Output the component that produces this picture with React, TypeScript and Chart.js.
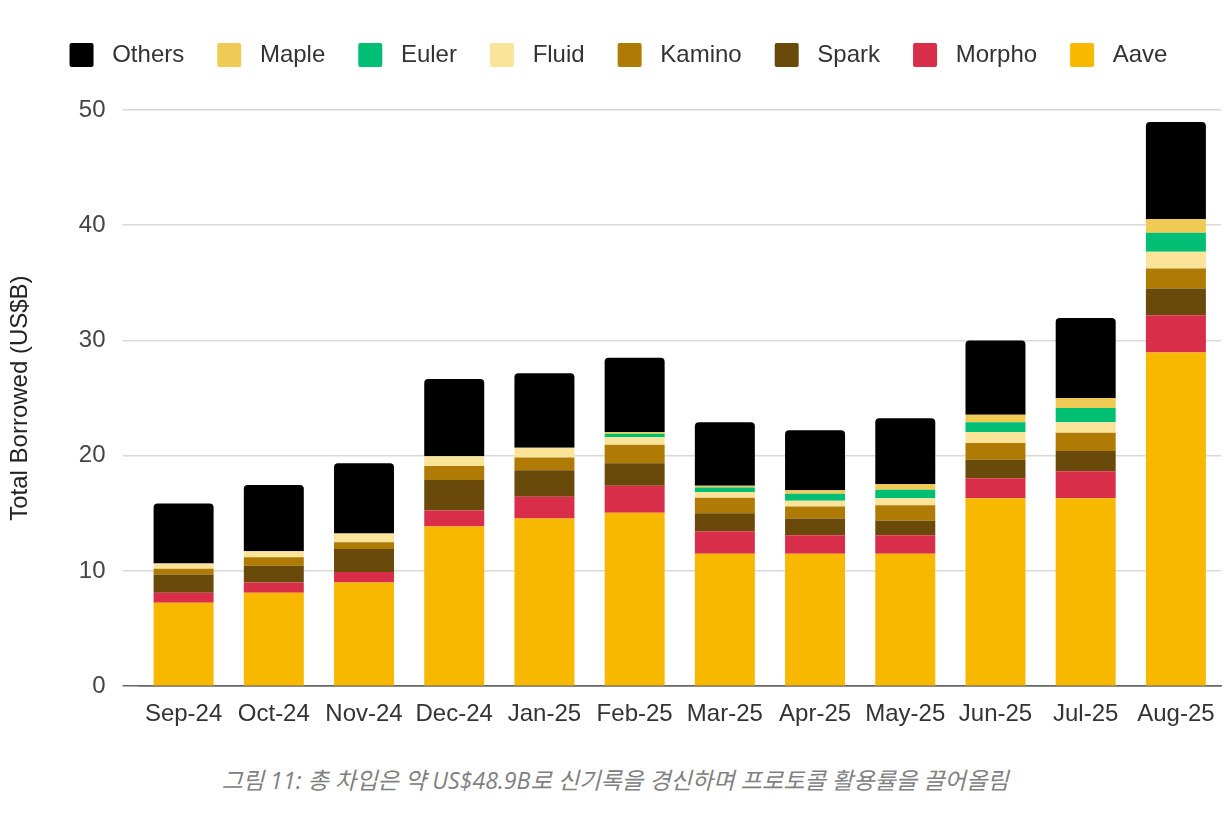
import React, { useEffect, useRef } from "react";
import { Chart, registerables } from "chart.js";

Chart.register(...registerables);

const categories = ["Sep-24", "Oct-24", "Nov-24", "Dec-24", "Jan-25", "Feb-25", "Mar-25", "Apr-25", "May-25", "Jun-25", "Jul-25", "Aug-25"];
const aave = [7.25, 8.1, 9.0, 13.85, 14.55, 15.05, 11.5, 11.5, 11.5, 16.3, 16.3, 28.95];
const morpho = [0.85, 0.9, 0.9, 1.4, 1.9, 2.35, 1.95, 1.6, 1.6, 1.75, 2.35, 3.25];
const spark = [1.6, 1.45, 2.0, 2.65, 2.3, 1.95, 1.55, 1.45, 1.25, 1.6, 1.75, 2.3];
const kamino = [0.5, 0.75, 0.6, 1.2, 1.1, 1.6, 1.35, 1.05, 1.35, 1.45, 1.6, 1.75];
const fluid = [0.45, 0.5, 0.75, 0.85, 0.85, 0.65, 0.5, 0.5, 0.6, 0.95, 0.9, 1.45];
const euler = [0, 0, 0, 0, 0, 0.3, 0.4, 0.6, 0.75, 0.85, 1.25, 1.65];
const maple = [0, 0, 0, 0, 0, 0.15, 0.15, 0.3, 0.5, 0.65, 0.85, 1.2];
const others = [5.2, 5.75, 6.1, 6.7, 6.45, 6.45, 5.5, 5.2, 5.7, 6.45, 6.95, 8.4];
const yTicks = [0, 10, 20, 30, 40, 50];
const yTitle = "Total Borrowed (US$B)";
const caption = "그림 11: 총 차입은 약 US$48.9B로 신기록을 경신하며 프로토콜 활용률을 끌어올림";

const FONT = '"Liberation Sans", Arial, sans-serif';

const legendSpacer = {
  id: "legendSpacer",
  beforeInit(chart: any) {
    const legend = chart.legend;
    if (!legend) return;
    const origFit = legend.fit;
    legend.fit = function () {
      origFit.call(this);
      this.height += 33;
    };
  },
  afterLayout(chart: any) {
    const legend = chart.legend;
    if (!legend) return;
    legend.left += 8;
    legend.right += 8;
  },
};

export default function App() {
  const ref = useRef<HTMLCanvasElement | null>(null);

  useEffect(() => {
    if (!ref.current) return;
    const series = [
      { label: "Aave", data: aave, color: "#F8B800" },
      { label: "Morpho", data: morpho, color: "#D92E4A" },
      { label: "Spark", data: spark, color: "#6A4A0B" },
      { label: "Kamino", data: kamino, color: "#AF7B05" },
      { label: "Fluid", data: fluid, color: "#F9E49A" },
      { label: "Euler", data: euler, color: "#00BE74" },
      { label: "Maple", data: maple, color: "#EFCA55" },
      { label: "Others", data: others, color: "#000000" },
    ];
    const chart = new Chart(ref.current, {
      type: "bar",
      data: {
        labels: categories,
        datasets: series.map((s) => ({
          label: s.label,
          data: s.data,
          backgroundColor: s.color,
          borderWidth: 0,
          categoryPercentage: 1,
          barPercentage: 0.665,
          borderRadius: s.label === "Others" ? { topLeft: 4, topRight: 4, bottomLeft: 0, bottomRight: 0 } : 0,
          borderSkipped: "start",
        })),
      },
      options: {
        responsive: false,
        animation: false,
        layout: { padding: { top: 10, left: 0, right: 9, bottom: 5 } },
        plugins: {
          tooltip: { enabled: false },
          legend: {
            position: "top",
            reverse: true,
            labels: {
              boxWidth: 24,
              boxHeight: 24,
              padding: 33,
              color: "#333333",
              font: { family: FONT, size: 24 },
              useBorderRadius: true,
              borderRadius: 2,
              generateLabels(c: any) {
                const items = Chart.defaults.plugins.legend.labels.generateLabels(c);
                return items.map((it: any) => ({ ...it, text: " " + it.text, lineWidth: 0 }));
              },
            },
          },
        },
        scales: {
          x: {
            stacked: true,
            grid: { display: false },
            border: { display: true, color: "#666666", width: 1.5 },
            ticks: { color: "#333333", font: { family: FONT, size: 24 }, padding: 6, maxRotation: 0, autoSkip: false },
          },
          y: {
            stacked: true,
            min: 0,
            max: 50,
            afterBuildTicks(scale: any) {
              scale.ticks = yTicks.map((v) => ({ value: v }));
            },
            grid: {
              color: (ctx: any) => (ctx.tick && ctx.tick.value === 0 ? "#666666" : "#D9D9D9"),
              lineWidth: 1.5,
              drawTicks: true,
              tickLength: 16,
            },
            border: { display: false },
            ticks: { color: "#444444", font: { family: FONT, size: 24 }, padding: 17 },
            title: {
              display: true,
              text: yTitle,
              color: "#222222",
              font: { family: FONT, size: 24 },
              padding: { top: 6, bottom: 27 },
            },
          },
        },
      },
      plugins: [legendSpacer],
    } as any);
    return () => chart.destroy();
  }, []);

  return (
    <div style={{ position: "fixed", left: 0, top: 0, width: 1230, height: 822, background: "#ffffff" }}>
      <canvas ref={ref} width={1230} height={740} style={{ display: "block", width: 1230, height: 740 }} />
      <div
        style={{
          position: "absolute",
          left: 0,
          top: 765,
          width: 1230,
          textAlign: "center",
          fontFamily: '"Open Sans", "Noto Sans CJK KR", sans-serif',
          fontStyle: "italic",
          fontSize: 23.2,
          color: "#808080",
          lineHeight: "30px",
        }}
      >
        {caption}
      </div>
    </div>
  );
}
